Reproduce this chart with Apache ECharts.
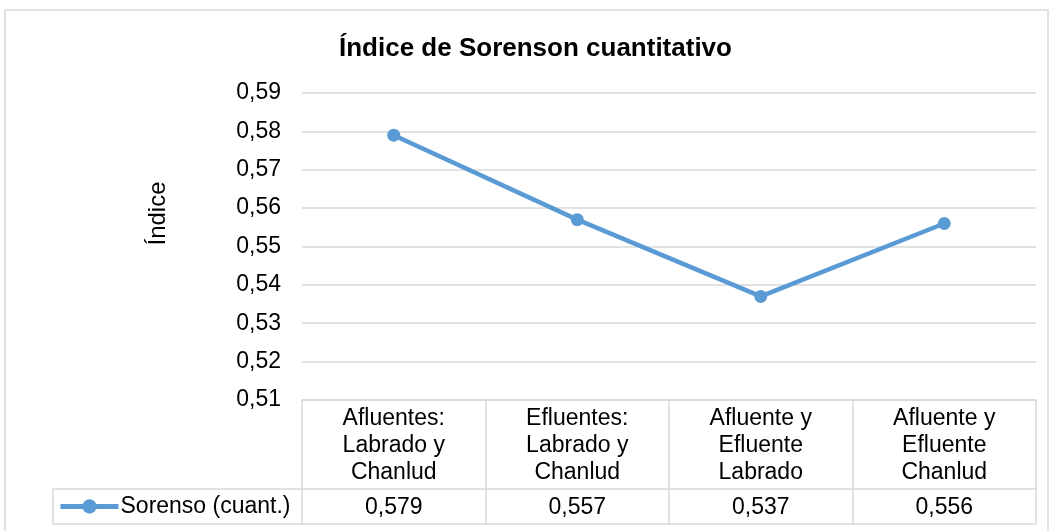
<!DOCTYPE html>
<html>
<head>
<meta charset="utf-8">
<script src="https://cdn.jsdelivr.net/npm/echarts@6/dist/echarts.min.js"></script>
<style>
  html, body { margin: 0; padding: 0; background: #fff; }
  #main { width: 1051px; height: 531px; }
</style>
</head>
<body>
<div id="main"></div>
<script>
var categories = [
  "Afluentes:\nLabrado y\nChanlud",
  "Efluentes:\nLabrado y\nChanlud",
  "Afluente y\nEfluente\nLabrado",
  "Afluente y\nEfluente\nChanlud"
];
var sorenso = [0.579, 0.557, 0.537, 0.556];
var seriesName = "Sorenso (cuant.)";
var yMin = 0.51, yMax = 0.59, yStep = 0.01;

function comma(v, d) {
  return v.toFixed(d).replace(".", ",");
}

var chart = echarts.init(document.getElementById("main"));
var font = "Liberation Sans, Arial, sans-serif";
var gridColor = "#d9d9d9";
var blue = "#5b9bd5";
// table geometry (px)
var tLeft = 53, gLeft = 302, gRight = 1036, axisY = 400, rowY = 489, tBottom = 524;

var option = {
  animation: false,
  textStyle: { fontFamily: font },
  title: {
    text: "Índice de Sorenson cuantitativo",
    left: 334,
    top: 31,
    textStyle: { fontSize: 26, fontWeight: "bold", color: "#000", fontFamily: font }
  },
  legend: {
    data: [seriesName],
    left: tLeft + 5,
    top: rowY + 6,
    padding: 0,
    itemWidth: 58,
    itemHeight: 18,
    itemGap: 0,
    lineStyle: { width: 5 },
    textStyle: { fontSize: 23, color: "#000", fontFamily: font, padding: [0, 0, 0, -3] }
  },
  grid: { left: gLeft, right: 1051 - gRight, top: 93, bottom: 531 - axisY },
  xAxis: [
    {
      type: "category",
      data: categories,
      position: "bottom",
      axisLine: { lineStyle: { color: gridColor, width: 1.5 } },
      axisTick: { show: true, length: rowY - axisY, lineStyle: { color: gridColor, width: 1.5 } },
      axisLabel: { color: "#000", fontSize: 23, lineHeight: 27, margin: 5, fontFamily: font }
    },
    {
      type: "category",
      data: categories,
      position: "bottom",
      offset: rowY - axisY,
      axisLine: { lineStyle: { color: gridColor, width: 1.5 } },
      axisTick: { show: true, length: tBottom - rowY, lineStyle: { color: gridColor, width: 1.5 } },
      axisLabel: {
        color: "#000", fontSize: 23, margin: 7, fontFamily: font,
        formatter: function (v, i) { return comma(sorenso[i], 3); }
      }
    }
  ],
  yAxis: {
    type: "value",
    min: yMin,
    max: yMax,
    interval: yStep,
    name: "Índice",
    nameLocation: "middle",
    nameGap: 132,
    nameTextStyle: { fontSize: 24, color: "#000", fontFamily: font, padding: [0, 0, 0, 66] },
    axisLine: { show: false },
    axisTick: { show: false },
    axisLabel: {
      color: "#000", fontSize: 23, margin: 21, fontFamily: font,
      formatter: function (v) { return comma(v, 2); }
    },
    splitLine: { lineStyle: { color: gridColor, width: 1.5 } }
  },
  series: [
    {
      name: seriesName,
      type: "line",
      data: sorenso,
      symbol: "circle",
      symbolSize: 13,
      lineStyle: { color: blue, width: 4.5 },
      itemStyle: { color: blue }
    }
  ],
  graphic: [
    {
      type: "rect",
      shape: { x: 5, y: 10, width: 1043, height: 530 },
      style: { fill: null, stroke: gridColor, lineWidth: 1.5 },
      silent: true
    },
    {
      type: "polyline",
      shape: { points: [[gLeft, rowY], [tLeft, rowY], [tLeft, tBottom], [gRight, tBottom]] },
      style: { fill: null, stroke: gridColor, lineWidth: 1.5 },
      silent: true
    }
  ]
};

chart.setOption(option);
</script>
</body>
</html>
